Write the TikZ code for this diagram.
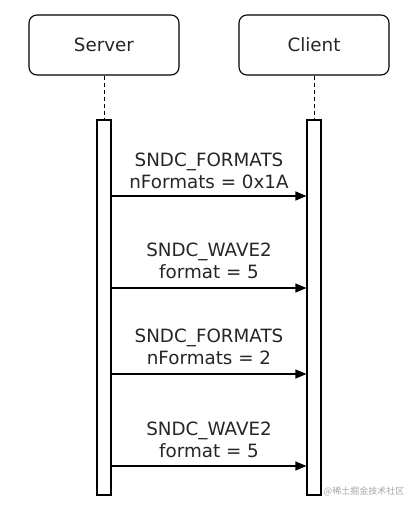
\documentclass[tikz,border=0pt]{standalone}
\usepackage{fontspec}
\setmainfont{DejaVu Sans}
\newfontfamily\cjk{Noto Sans CJK SC}
\usetikzlibrary{arrows.meta}
\begin{document}
\begin{tikzpicture}[x=1pt,y=-1pt,
  actor/.style={draw, line width=1.1pt, rounded corners=8pt, minimum width=150pt, minimum height=60pt, inner sep=0pt, font=\fontsize{18.3}{22}\selectfont, text=black!85},
  bar/.style={draw, line width=1.1pt, fill=white, minimum width=14pt, minimum height=375pt, inner sep=0pt},
  life/.style={line width=0.8pt, dash pattern=on 4pt off 3pt},
  msg/.style={line width=1.1pt, -{Triangle[length=11pt,width=9pt]}},
  lbl/.style={align=center, font=\fontsize{18.3}{21.5}\selectfont, inner sep=0pt, text=black!85}]
\useasboundingbox (0,0) rectangle (417,508);
\fill[white] (0,0) rectangle (417,508);
\node[actor] (server) at (104,45) {Server};
\node[actor] (client) at (314,45) {Client};
\node[bar] (sbar) at (104,307.5) {};
\node[bar] (cbar) at (314,307.5) {};
\draw[life] (server.south) -- (sbar.north);
\draw[life] (client.south) -- (cbar.north);
% messages
\coordinate (s1) at (sbar.east |- 0,196); \coordinate (c1) at (cbar.west |- 0,196);
\coordinate (s2) at (sbar.east |- 0,288); \coordinate (c2) at (cbar.west |- 0,288);
\coordinate (s3) at (sbar.east |- 0,374); \coordinate (c3) at (cbar.west |- 0,374);
\coordinate (s4) at (sbar.east |- 0,466); \coordinate (c4) at (cbar.west |- 0,466);
\draw[msg] (s1) -- (c1);
\draw[msg] (s2) -- (c2);
\draw[msg] (s3) -- (c3);
\draw[msg] (s4) -- (c4);
\node[lbl] (l1) at (209,171) {SNDC\_FORMATS\\nFormats = 0x1A};
\node[lbl] (l2) at (209,261) {SNDC\_WAVE2\\format = 5};
\node[lbl] (l3) at (209,347) {SNDC\_FORMATS\\nFormats = 2};
\node[lbl] (l4) at (209,440) {SNDC\_WAVE2\\format = 5};
\node[text=black!35, font=\cjk\fontsize{9}{10}\selectfont, inner sep=0pt] (wm) at (364,491) {@稀土掘金技术社区};
\end{tikzpicture}
\end{document}
